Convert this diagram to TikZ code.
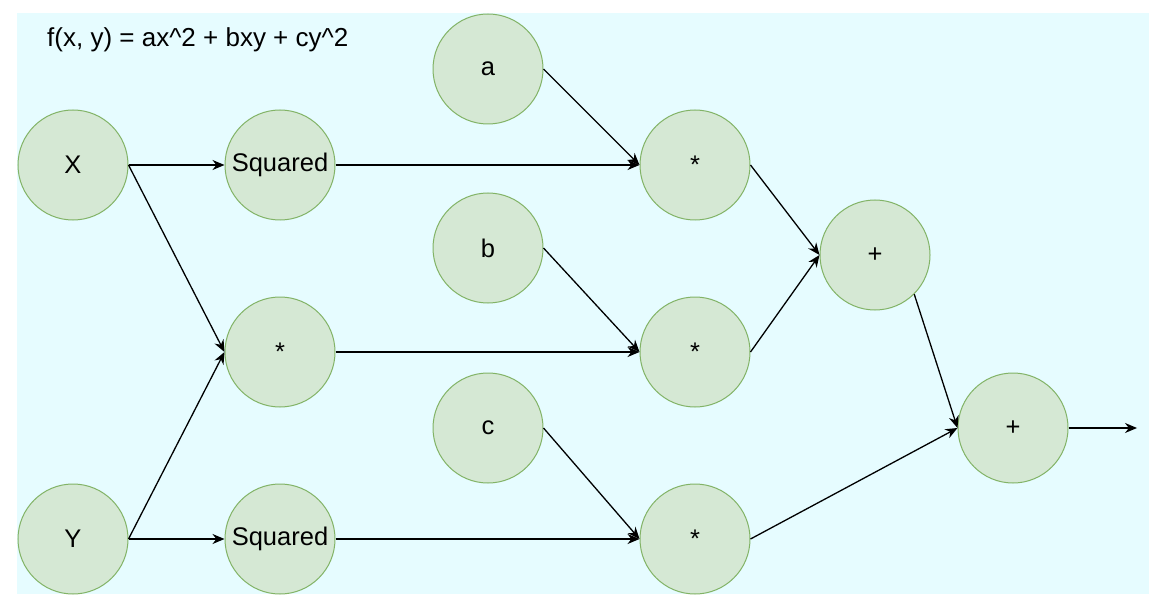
\documentclass[tikz,border=0pt]{standalone}
\usepackage{fontspec}
\setmainfont{Liberation Sans}
\usetikzlibrary{arrows.meta, positioning}

\definecolor{nodefill}{HTML}{D5E8D4}
\definecolor{nodeline}{HTML}{82B366}
\definecolor{canvas}{HTML}{E6FCFF}

\begin{document}
\begin{tikzpicture}[
x=1pt, y=-1pt,
node distance=76pt and 96pt,
every node/.style={font=\fontsize{25.5}{30}\selectfont, align=center},
op/.style={circle, draw=nodeline, fill=nodefill, line width=1pt, minimum size=110pt, inner sep=0pt},
arrow/.style={-{Stealth[length=12pt, width=10pt]}, line width=1.3pt}
]

\useasboundingbox (0,0) rectangle (1174,612);
\fill[canvas] (17,13) rectangle (1149,594);

\node[anchor=base west, inner sep=0pt, font=\fontsize{26}{30}\selectfont] (title) at (47,47) {f(x, y) = ax\textasciicircum 2 + bxy + cy\textasciicircum 2};

\node[op] (x) at (73,165) {X};
\node[op, right=of x] (sqx) {Squared};
\node[op, below=of sqx] (xy) {*};
\node[op, below=of xy] (sqy) {Squared};
\node[op, left=of sqy] (y) {Y};

\node[op] (a) at (488,69) {a};
\node[op] (b) at (488,248) {b};
\node[op] (c) at (488,428) {c};

\node[op] (ax) at (695,165) {*};
\node[op] (bxy) at (695,352) {*};
\node[op] (cy) at (sqy -| ax) {*};

\node[op] (sum1) at (875,255) {+};
\node[op] (sum2) at (1013,428) {+};
\coordinate (out) at (1137,428);


\draw[arrow] (x.east) -- (sqx.west);
\draw[arrow] (x.east) -- (xy.west);
\draw[arrow] (y.east) -- (xy.west);
\draw[arrow] (y.east) -- (sqy.west);
\draw[arrow] (sqx.east) -- (ax.west);
\draw[arrow] (a.east) -- (ax.west);
\draw[arrow] (xy.east) -- (bxy.west);
\draw[arrow] (b.east) -- (bxy.west);
\draw[arrow] (sqy.east) -- (cy.west);
\draw[arrow] (c.east) -- (cy.west);
\draw[arrow] (ax.east) -- (sum1.west);
\draw[arrow] (bxy.east) -- (sum1.west);
\draw[arrow] (sum1.south east) -- (sum2.west);
\draw[arrow] (cy.east) -- (sum2.west);
\draw[arrow] (sum2.east) -- (out);

\end{tikzpicture}
\end{document}
